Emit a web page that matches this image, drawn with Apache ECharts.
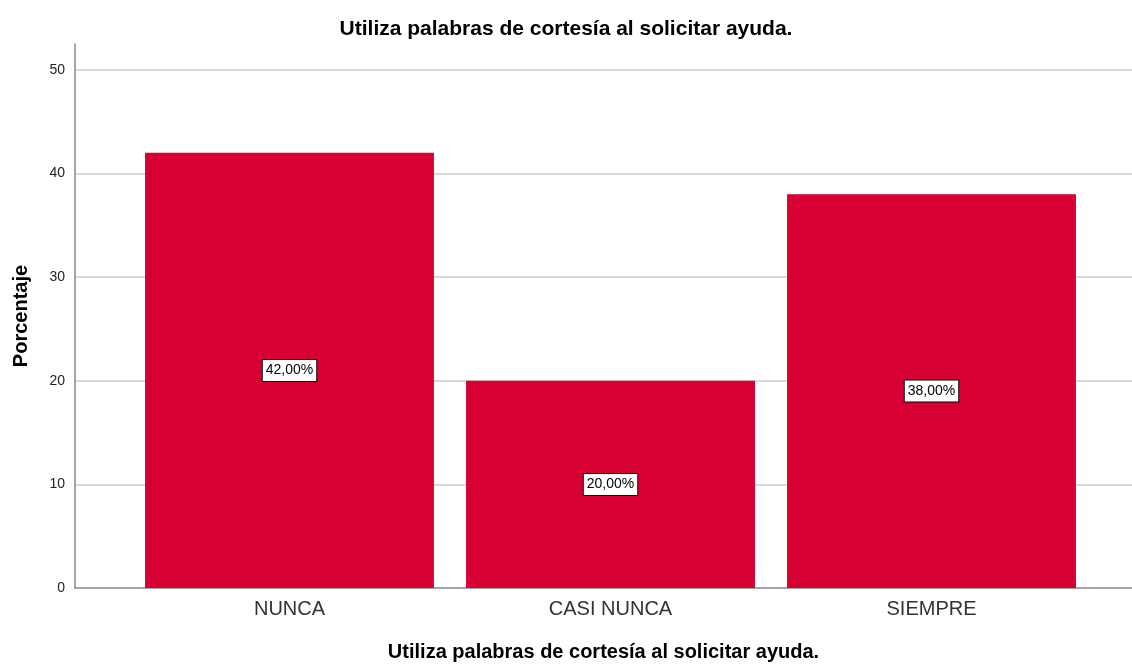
<!DOCTYPE html>
<html>
<head>
<meta charset="utf-8">
<script src="https://cdn.jsdelivr.net/npm/echarts@6/dist/echarts.min.js"></script>
<style>
html,body{margin:0;padding:0;background:#fff;}
#chart{width:1132px;height:664px;}
</style>
</head>
<body>
<div id="chart"></div>
<script>
/*
*datos del grafico
*/
var categorias = ['NUNCA', 'CASI NUNCA', 'SIEMPRE'];
var porcentajes = [42, 20, 38];
var etiquetas = ['42,00%', '20,00%', '38,00%'];
var titulo = 'Utiliza palabras de cortesía al solicitar ayuda.';

var barData = [];
for (var i = 0; i < porcentajes.length; i++) {
	barData.push({value: porcentajes[i], label: {formatter: etiquetas[i]}});
}

var option = {
	backgroundColor : '#fff',
	animation : false,
	textStyle : { fontFamily : 'Liberation Sans, Arial, sans-serif' },
	title : {
		text : titulo,
		left : 'center',
		top : 14,
		textStyle : { color : '#000', fontSize : 21, fontWeight : 'bold' }
	},
	grid : [
		// marco: eje Y y lineas de division
		{ left : 75, right : 0, top : 44, bottom : 76, containLabel : false, outerBoundsMode : 'none' },
		// barras
		{ left : 129, width : 963, top : 44, bottom : 76, containLabel : false, outerBoundsMode : 'none' }
	],
	xAxis : [{
		gridIndex : 0,
		type : 'category',
		data : [''],
		axisLine : { lineStyle : { color : '#888', width : 1.5 } },
		axisTick : { show : false },
		axisLabel : { show : false },
		name : titulo,
		nameLocation : 'middle',
		nameGap : 54,
		nameTextStyle : { color : '#000', fontSize : 20, fontWeight : 'bold' }
	}, {
		gridIndex : 1,
		type : 'category',
		data : categorias,
		axisLine : { show : false },
		axisTick : { show : false },
		axisLabel : { color : '#333', fontSize : 20, margin : 11 }
	}],
	yAxis : [{
		gridIndex : 0,
		type : 'value',
		min : 0,
		max : 52.5,
		interval : 10,
		axisLine : { show : true, lineStyle : { color : '#888', width : 1.5 } },
		axisTick : { show : false },
		axisLabel : {
			color : '#222', fontSize : 14, margin : 10,
			formatter : function (v) { return v % 10 === 0 ? v : ''; }
		},
		splitLine : { show : true, showMinLine : false, showMaxLine : false, lineStyle : { color : '#ccc', width : 1.5 } },
		name : 'Porcentaje',
		nameLocation : 'middle',
		nameGap : 44,
		nameTextStyle : { color : '#000', fontSize : 20, fontWeight : 'bold' }
	}, {
		gridIndex : 1,
		type : 'value',
		min : 0,
		max : 52.5,
		show : false,
		splitLine : { show : false }
	}],
	series : [{
		type : 'bar',
		xAxisIndex : 1,
		yAxisIndex : 1,
		barCategoryGap : '10%',
		data : barData,
		itemStyle : { color : '#d70032' },
		label : {
			show : true,
			position : 'inside',
			color : '#000',
			fontSize : 14,
			backgroundColor : '#fff',
			borderColor : '#000',
			borderWidth : 1,
			padding : [4, 3, 3, 3]
		}
	}]
};

var myChart = echarts.init(document.getElementById('chart'));
myChart.setOption(option);
</script>
</body>
</html>
